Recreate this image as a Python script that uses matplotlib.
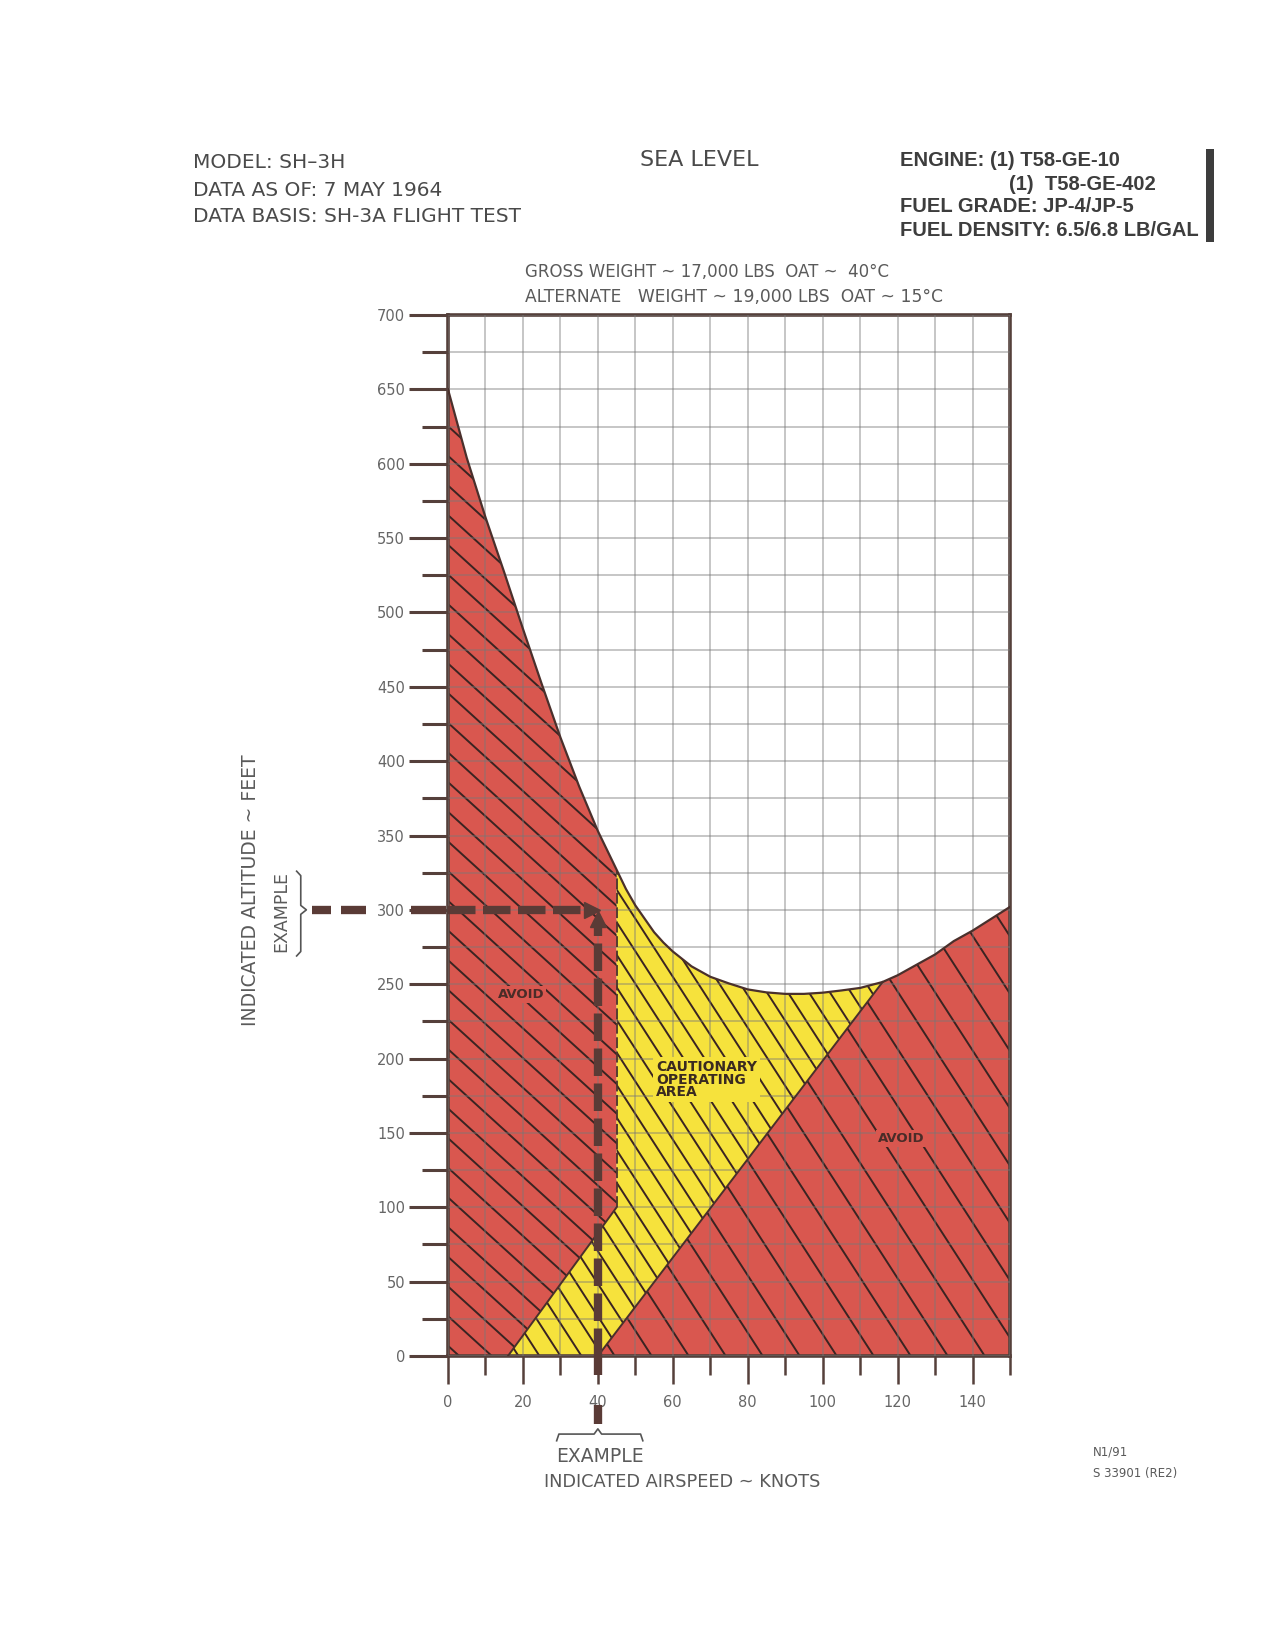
import numpy as np
import matplotlib
matplotlib.use('Agg')
import matplotlib.pyplot as plt
from matplotlib.collections import LineCollection
from matplotlib.patches import Rectangle

# upper boundary of the avoid / cautionary areas (knots, feet)
curve_kn = [0, 5, 10, 15, 20, 25, 30, 35, 40, 42.5, 45, 47.5, 50, 52.5, 55, 57.5, 60, 65, 70, 75,
            80, 85, 90, 95, 100, 105, 110, 116, 120, 125, 130, 135, 140, 145, 150]
curve_ft = [650, 604, 564, 527, 489, 452, 416, 383, 353, 340, 327, 314, 303, 294, 285, 278, 272, 262, 255, 250.5,
            246.5, 244.5, 243.5, 243.5, 244.3, 245.8, 247.5, 251.5, 256, 263, 270, 279, 286, 294, 302]

caution_edge_kn = 45       # left edge of cautionary area
caution_edge_low_ft = 100  # bottom of that edge
caution_start_kn = 16      # cautionary area at sea level
avoid_right_start_kn = 40  # right avoid area at sea level
junction_kn = 116          # where right avoid area meets the curve

example_kn = 40
example_ft = 300

xmajor = [0, 20, 40, 60, 80, 100, 120, 140]
xminor = [10, 30, 50, 70, 90, 110, 130, 150]
ymajor = list(range(0, 701, 50))
yminor = list(range(25, 700, 50))

RED = '#D9574F'
YEL = '#F6E23C'
HATCH = '#3a2422'
DARK = '#55403b'
DASH = '#5a3b36'
GRAY = '#5a5a5a'

W, H = 1275, 1650
fig = plt.figure(figsize=(12.75, 16.5), dpi=100)
def fx(px): return px / W
def fy(py): return 1 - py / H

ax = fig.add_axes([fx(448), fy(1356), (1010 - 448) / W, (1356 - 315) / H])
ax.set_xlim(0, 150)
ax.set_ylim(0, 700)

cx = np.array(curve_kn, float)
cy = np.array(curve_ft, float)
ie = curve_kn.index(caution_edge_kn)
ij = curve_kn.index(junction_kn)

left_x = [0] + list(cx[:ie + 1]) + [caution_edge_kn, caution_start_kn]
left_y = [0] + list(cy[:ie + 1]) + [caution_edge_low_ft, 0]
mid_x = [caution_start_kn, avoid_right_start_kn] + list(cx[ie:ij + 1][::-1]) + [caution_edge_kn]
mid_y = [0, 0] + list(cy[ie:ij + 1][::-1]) + [caution_edge_low_ft]
right_x = [avoid_right_start_kn, 150] + list(cx[ij:][::-1])
right_y = [0, 0] + list(cy[ij:][::-1])

p_left = ax.fill(left_x, left_y, color=RED, lw=0, zorder=1)[0]
p_mid = ax.fill(mid_x, mid_y, color=YEL, lw=0, zorder=1)[0]
p_right = ax.fill(right_x, right_y, color=RED, lw=0, zorder=1)[0]

# px per unit, used to set hatch angles as they look on paper
kx = (1010 - 448) / 150.0
ky = (1356 - 315) / 700.0

def hatch(poly, px_step, px_slope, phase=0.0):
    m = -px_slope * kx / ky
    step = px_step / kx
    offs = np.arange(phase, 150 + 700 / abs(m) + step, step)
    segs = [[(-20, m * (-20 - c)), (170, m * (170 - c))] for c in offs]
    lc = LineCollection(segs, colors=HATCH, linewidths=1.4, zorder=1.5)
    ax.add_collection(lc)
    lc.set_clip_path(poly)

hatch(p_left, 32.6, 0.91, 3)
hatch(p_mid, 21, 1.55, 2)
hatch(p_right, 37, 1.55, 5)

# grid
ax.set_xticks(xmajor)
ax.set_xticks(xminor, minor=True)
ax.set_yticks(ymajor)
ax.set_yticks(yminor, minor=True)
ax.set_axisbelow(False)
ax.grid(True, which='both', color='#777777', alpha=0.45, lw=1.3)
ax.tick_params(axis='y', which='major', length=28, width=2.2, color=DARK,
               labelsize=10.5, labelcolor='#666666', pad=3)
ax.tick_params(axis='y', which='minor', length=19, width=2.2, color=DARK)
ax.tick_params(axis='x', which='major', length=20, width=1.8, color=DARK,
               labelsize=10.5, labelcolor='#666666', pad=8)
ax.tick_params(axis='x', which='minor', length=14, width=1.8, color=DARK)
for s in ax.spines.values():
    s.set_color(DARK)
    s.set_linewidth(2.6)

# boundaries
ax.plot(cx, cy, color='#4a302c', lw=1.6, zorder=3)
ax.plot([caution_start_kn, caution_edge_kn], [0, caution_edge_low_ft], color='#4a302c', lw=1.4, zorder=3)
ax.plot([avoid_right_start_kn, junction_kn], [0, cy[ij]], color='#4a302c', lw=1.4, zorder=3)
ax.plot([caution_edge_kn, caution_edge_kn], [caution_edge_low_ft, cy[ie]], color='#4a302c',
        lw=1.3, dashes=(6, 2), zorder=3)

# area labels
ax.text(19.5, 243, 'AVOID', fontsize=9.5, fontweight='bold', color='#4a2c28', ha='center', va='center',
        zorder=4, bbox=dict(facecolor=RED, edgecolor='none', pad=1.5))
ax.text(121, 146, 'AVOID', fontsize=9.5, fontweight='bold', color='#4a2c28', ha='center', va='center',
        zorder=4, bbox=dict(facecolor=RED, edgecolor='none', pad=1.5))
ax.text(55.5, 199, 'CAUTIONARY\nOPERATING\nAREA', fontsize=10, fontweight='bold', color='#3a2a20',
        ha='left', va='top', linespacing=0.88, zorder=4,
        bbox=dict(facecolor=YEL, edgecolor='none', pad=2))

# example path
dkw = dict(color=DASH, lw=6, dashes=(3.3, 0.9), dash_capstyle='butt', zorder=5)
ax.plot([0, example_kn - 2.5], [example_ft, example_ft], **dkw)
ax.plot([example_kn, example_kn], [0, example_ft - 12], **dkw)
ax.plot(example_kn - 1.6, example_ft, marker='>', ms=11, color=DASH, zorder=5)
ax.plot(example_kn, example_ft - 6, marker='^', ms=11, color=DASH, zorder=5)
okw = dict(color=DASH, lw=6, solid_capstyle='butt', clip_on=False, zorder=5)
ax.plot([-10, -0.5], [example_ft, example_ft], **okw)
ax.plot([-36.3, -31.2], [example_ft, example_ft], **okw)
ax.plot([-28.5, -21.9], [example_ft, example_ft], **okw)
ax.plot([example_kn, example_kn], [0, -13], **okw)
ax.plot([example_kn, example_kn], [-33, -46], **okw)

bkw = dict(color='#555555', lw=1.2, clip_on=False)
ax.plot([-40.4, -39.3, -39.3, -37.8, -39.3, -39.3, -40.4],
        [example_ft + 26, example_ft + 23, example_ft + 3, example_ft, example_ft - 3,
         example_ft - 28, example_ft - 31], **bkw)
ax.plot([example_kn - 11, example_kn - 10.4, example_kn - 1, example_kn, example_kn + 1,
         example_kn + 11.4, example_kn + 12],
        [-57, -52.5, -52.5, -49, -52.5, -52.5, -57], **bkw)

# axis titles
fig.text(fx(250), fy(890), 'INDICATED ALTITUDE ~ FEET', rotation=90, fontsize=13.5, color=GRAY,
         ha='center', va='center')
fig.text(fx(281), fy(911), 'EXAMPLE', rotation=90, fontsize=12.5, color=GRAY, ha='center', va='center')
fig.text(fx(600), fy(1457), 'EXAMPLE', fontsize=13.5, color=GRAY, ha='center', va='center')
fig.text(fx(682), fy(1482), 'INDICATED AIRSPEED ~ KNOTS', fontsize=12.8, color=GRAY, ha='center', va='center')
fig.text(fx(525), fy(272), 'GROSS WEIGHT ~ 17,000 LBS  OAT ~  40°C', fontsize=12, color=GRAY,
         ha='left', va='center')
fig.text(fx(525), fy(297), 'ALTERNATE   WEIGHT ~ 19,000 LBS  OAT ~ 15°C', fontsize=12.3, color=GRAY,
         ha='left', va='center')

# header
fig.text(fx(193), fy(163), 'MODEL: SH–3H', fontsize=14.5, color='#4a4a4a', va='center')
fig.text(fx(193), fy(190), 'DATA AS OF: 7 MAY 1964', fontsize=14.5, color='#4a4a4a', va='center')
fig.text(fx(193), fy(217), 'DATA BASIS: SH-3A FLIGHT TEST', fontsize=14.5, color='#4a4a4a', va='center')
fig.text(fx(699), fy(160), 'SEA LEVEL', fontsize=16, color='#4a4a4a', ha='center', va='center')
rk = dict(fontsize=14.5, fontweight='bold', color='#3d3d3d', va='center', family='Liberation Sans')
fig.text(fx(900), fy(160), 'ENGINE: (1) T58-GE-10', **rk)
fig.text(fx(1009), fy(185), '(1)  T58-GE-402', **rk)
fig.text(fx(900), fy(207), 'FUEL GRADE: JP-4/JP-5', **rk)
fig.text(fx(900), fy(230), 'FUEL DENSITY: 6.5/6.8 LB/GAL', **rk)
fig.add_artist(Rectangle((fx(1206), fy(242)), 8 / W, 93 / H, transform=fig.transFigure,
                         color='#3d3d3d', lw=0))

fig.text(fx(1093), fy(1452), 'N1/91', fontsize=8.5, color=GRAY, va='center')
fig.text(fx(1093), fy(1474), 'S 33901 (RE2)', fontsize=8.5, color=GRAY, va='center')

fig.savefig('out.png', dpi=100)
